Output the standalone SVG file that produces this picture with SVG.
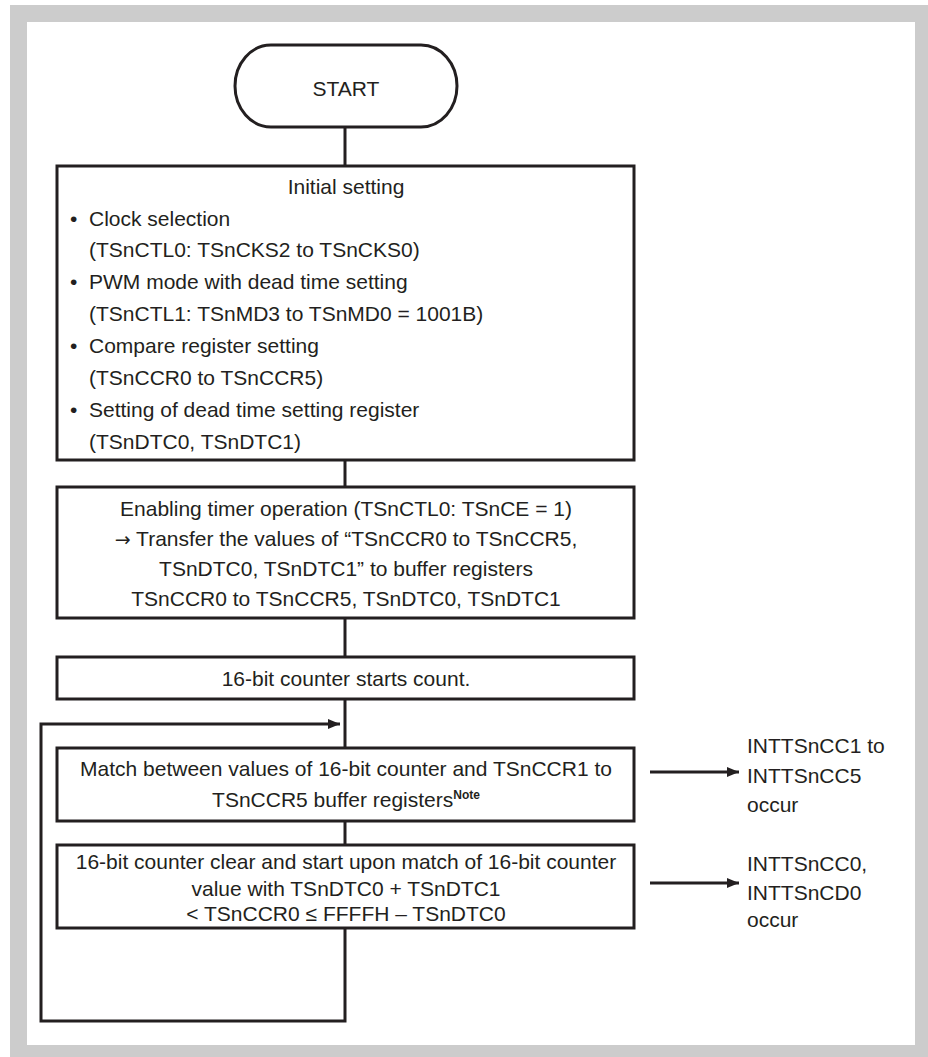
<svg xmlns="http://www.w3.org/2000/svg" width="928" height="1057" viewBox="0 0 928 1057">
<style>
text{font-family:"Liberation Sans",Arial,sans-serif;font-size:21px;fill:#231f20}
.c{text-anchor:middle}
.box{fill:#fff;stroke:#231f20;stroke-width:3}
.ln{fill:none;stroke:#231f20;stroke-width:3}
.sup{font-size:12px;font-weight:bold}
.sym{font-family:"DejaVu Sans",sans-serif;font-size:19px}
</style>
<defs>
<marker id="ah" markerWidth="12" markerHeight="10" refX="12" refY="5" orient="auto" markerUnits="userSpaceOnUse">
<path d="M0,0 L12,5 L0,10 Z" fill="#231f20"/>
</marker>
</defs>
<rect x="0" y="0" width="928" height="1057" fill="#fff"/>
<rect x="10" y="5" width="918" height="1052" fill="#cccccc"/>
<rect x="27" y="22" width="888" height="1023" fill="#fff"/>
<g id="connectors">
<line class="ln" x1="345" y1="127" x2="345" y2="166"/>
<line class="ln" x1="345" y1="460" x2="345" y2="487"/>
<line class="ln" x1="345" y1="618" x2="345" y2="657"/>
<line class="ln" x1="345" y1="698" x2="345" y2="748"/>
<line class="ln" x1="345" y1="821" x2="345" y2="845"/>
<polyline class="ln" points="345,928 345,1021 41,1021 41,724 340,724" marker-end="url(#ah)"/>
<line class="ln" x1="650" y1="772" x2="739" y2="772" marker-end="url(#ah)"/>
<line class="ln" x1="650" y1="883" x2="739" y2="883" marker-end="url(#ah)"/>
</g>
<g id="start">
<rect class="box" x="235" y="45" width="222" height="82" rx="36" ry="41"/>
<text class="c" x="346" y="96">START</text>
</g>
<g id="initial">
<rect class="box" x="57" y="166" width="577" height="294"/>
<text class="c" x="346" y="194">Initial setting</text>
<text x="70" y="226">•</text>
<text x="89" y="226">Clock selection</text>
<text x="89" y="257">(TSnCTL0: TSnCKS2 to TSnCKS0)</text>
<text x="70" y="289">•</text>
<text x="89" y="289">PWM mode with dead time setting</text>
<text x="89" y="321">(TSnCTL1: TSnMD3 to TSnMD0 = 1001B)</text>
<text x="70" y="353">•</text>
<text x="89" y="353">Compare register setting</text>
<text x="89" y="385">(TSnCCR0 to TSnCCR5)</text>
<text x="70" y="417">•</text>
<text x="89" y="417">Setting of dead time setting register</text>
<text x="89" y="449">(TSnDTC0, TSnDTC1)</text>
</g>
<g id="enable">
<rect class="box" x="57" y="487" width="577" height="131"/>
<text class="c" x="346" y="516">Enabling timer operation (TSnCTL0: TSnCE = 1)</text>
<text class="c" x="346" y="546"><tspan class="sym">→</tspan> Transfer the values of “TSnCCR0 to TSnCCR5,</text>
<text class="c" x="346" y="576">TSnDTC0, TSnDTC1” to buffer registers</text>
<text class="c" x="346" y="606">TSnCCR0 to TSnCCR5, TSnDTC0, TSnDTC1</text>
</g>
<g id="count">
<rect class="box" x="57" y="657" width="577" height="42"/>
<text class="c" x="346" y="686">16-bit counter starts count.</text>
</g>
<g id="match">
<rect class="box" x="57" y="748" width="577" height="73"/>
<text class="c" x="346" y="776">Match between values of 16-bit counter and TSnCCR1 to</text>
<text class="c" x="346" y="807">TSnCCR5 buffer registers<tspan class="sup" dy="-8">Note</tspan></text>
</g>
<g id="clear">
<rect class="box" x="57" y="845" width="577" height="83"/>
<text class="c" x="346" y="869">16-bit counter clear and start upon match of 16-bit counter</text>
<text class="c" x="346" y="896">value with TSnDTC0 + TSnDTC1</text>
<text class="c" x="346" y="921">&lt; TSnCCR0 ≤ FFFFH – TSnDTC0</text>
</g>
<g id="int1">
<text x="747" y="753">INTTSnCC1 to</text>
<text x="747" y="783">INTTSnCC5</text>
<text x="747" y="812">occur</text>
</g>
<g id="int2">
<text x="747" y="871">INTTSnCC0,</text>
<text x="747" y="900">INTTSnCD0</text>
<text x="747" y="927">occur</text>
</g>
</svg>
